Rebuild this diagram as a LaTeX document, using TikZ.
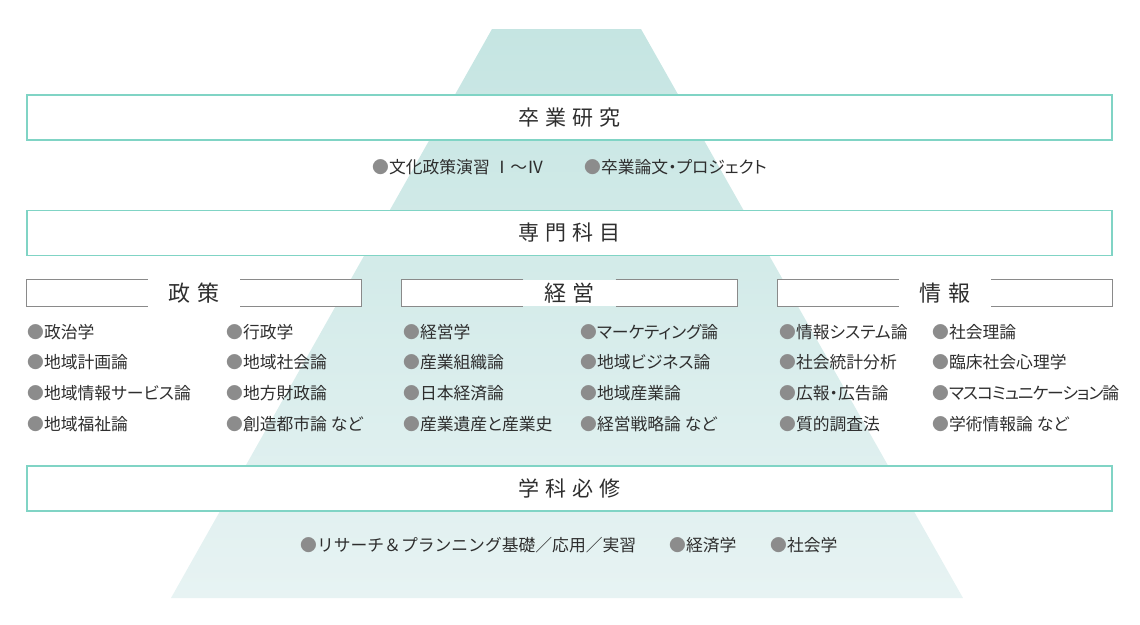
\documentclass[tikz,border=0pt]{standalone}
\usepackage{fontspec}
\setmainfont{Noto Sans CJK JP}[RawFeature=+palt]
\newfontfamily\fullfont{Noto Sans CJK JP}
\newfontfamily\headfont{Noto Sans CJK JP}[LetterSpace=30]
\usepackage{tikz}
\usetikzlibrary{positioning}

\definecolor{pyrtop}{HTML}{C5E5E2}
\definecolor{pyrbot}{HTML}{E7F3F3}
\definecolor{lineteal}{HTML}{80D4C5}
\definecolor{framegray}{HTML}{8A8A8A}
\definecolor{dotgray}{HTML}{8C8C8C}
\definecolor{inkgray}{HTML}{2E2E2E}

\newcommand{\bul}{\textcolor{dotgray}{●}}

\begin{document}
\begin{tikzpicture}[
      x=1pt, y=-1pt,
      head_box/.style={draw=lineteal, line width=1.1pt, fill=white, minimum width=1085pt, minimum height=45pt, inner sep=0pt, text=inkgray, font=\headfont\fontsize{21}{21}\selectfont},
      group_frame/.style={fill=white, minimum width=335pt, minimum height=26pt, inner sep=0pt},
      group_label/.style={minimum width=92pt, inner sep=0pt, text=inkgray, font=\headfont\fontsize{22}{22}\selectfont},
      frame_line/.style={draw=framegray, line width=0.8pt},
      item_text/.style={anchor=west, inner sep=0pt, text height=14pt, text depth=2pt, text=inkgray, font=\fontsize{16.8}{16.8}\selectfont},
      next_row/.style={below=14.5pt of #1.south west, anchor=north west}
    ]
      \useasboundingbox (0,0) rectangle (1140,624);
      % pyramid in the back
      \shade[top color=pyrtop, bottom color=pyrbot] (492,29) -- (641,29) -- (963,598) -- (171,598) -- cycle;

      % layers
      \node[head_box] (thesis) at (569.5,117.5) {卒業研究};
      \node[head_box] (major) at (569.5,233) {専門科目};
      \node[head_box] (basic) at (569.5,488.5) {学科必修};

      \node[item_text] (t1) at (372,167) {\bul 文化政策演習 Ⅰ～Ⅳ};
      \node[item_text] (t2) at (584,167) {\bul 卒業論文・プロジェクト};

      \node[item_text] (b1) at (300,545) {\fullfont\bul リサーチ＆プランニング基礎／応用／実習};
      \node[item_text] (b2) at (669,545) {\bul 経済学};
      \node[item_text] (b3) at (770,545) {\bul 社会学};

      % three groups
      \node[group_frame] (polf) at (194,293) {};
      \node[group_label] (pol) at (polf) {政策};
      \node[group_frame] (mgtf) at (569.5,293) {};
      \node[group_label] (mgt) at (mgtf) {経営};
      \node[group_frame] (inff) at (945,293) {};
      \node[group_label] (inf) at (inff) {情報};

      \draw[frame_line] (pol.west |- polf.north) -- (polf.north west) -- (polf.south west) -- (pol.west |- polf.south);
      \draw[frame_line] (pol.east |- polf.north) -- (polf.north east) -- (polf.south east) -- (pol.east |- polf.south);
      \draw[frame_line] (mgt.west |- mgtf.north) -- (mgtf.north west) -- (mgtf.south west) -- (mgt.west |- mgtf.south);
      \draw[frame_line] (mgt.east |- mgtf.north) -- (mgtf.north east) -- (mgtf.south east) -- (mgt.east |- mgtf.south);
      \draw[frame_line] (inf.west |- inff.north) -- (inff.north west) -- (inff.south west) -- (inf.west |- inff.south);
      \draw[frame_line] (inf.east |- inff.north) -- (inff.north east) -- (inff.south east) -- (inf.east |- inff.south);

      % policy
      \node[item_text] (p1) at (27,332) {\bul 政治学};
      \node[item_text, next_row=p1] (p2) {\bul 地域計画論};
      \node[item_text, next_row=p2] (p3) {\bul 地域情報サービス論};
      \node[item_text, next_row=p3] (p4) {\bul 地域福祉論};
      \node[item_text] (p5) at (226,332) {\bul 行政学};
      \node[item_text, next_row=p5] (p6) {\bul 地域社会論};
      \node[item_text, next_row=p6] (p7) {\bul 地方財政論};
      \node[item_text, next_row=p7] (p8) {\bul 創造都市論 など};

      % management
      \node[item_text] (m1) at (403,332) {\bul 経営学};
      \node[item_text, next_row=m1] (m2) {\bul 産業組織論};
      \node[item_text, next_row=m2] (m3) {\bul 日本経済論};
      \node[item_text, next_row=m3] (m4) {\bul 産業遺産と産業史};
      \node[item_text] (m5) at (580,332) {\bul マーケティング論};
      \node[item_text, next_row=m5] (m6) {\bul 地域ビジネス論};
      \node[item_text, next_row=m6] (m7) {\bul 地域産業論};
      \node[item_text, next_row=m7] (m8) {\bul 経営戦略論 など};

      % information
      \node[item_text] (i1) at (779,332) {\bul 情報システム論};
      \node[item_text, next_row=i1] (i2) {\bul 社会統計分析};
      \node[item_text, next_row=i2] (i3) {\bul 広報・広告論};
      \node[item_text, next_row=i3] (i4) {\bul 質的調査法};
      \node[item_text] (i5) at (932,332) {\bul 社会理論};
      \node[item_text, next_row=i5] (i6) {\bul 臨床社会心理学};
      \node[item_text, next_row=i6] (i7) {\addfontfeature{LetterSpace=-6}\bul マスコミュニケーション論};
      \node[item_text, next_row=i7] (i8) {\bul 学術情報論 など};
    \end{tikzpicture}
\end{document}
